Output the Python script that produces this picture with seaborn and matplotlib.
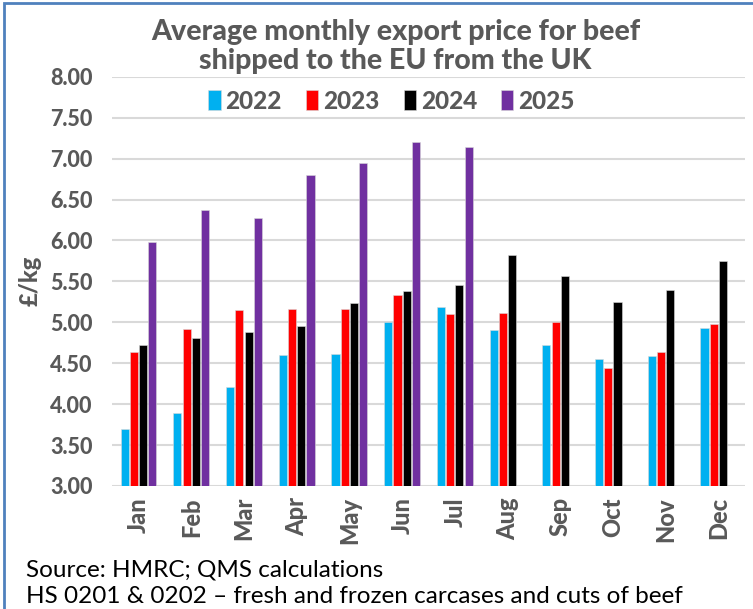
import pandas as pd
import matplotlib.pyplot as plt
import matplotlib.patches as patches
import seaborn as sns

months = ['Jan', 'Feb', 'Mar', 'Apr', 'May', 'Jun', 'Jul', 'Aug', 'Sep', 'Oct', 'Nov', 'Dec']
years = ['2022', '2023', '2024', '2025']
v2022 = [3.70, 3.89, 4.21, 4.60, 4.61, 5.00, 5.19, 4.90, 4.72, 4.55, 4.59, 4.93]
v2023 = [4.64, 4.92, 5.15, 5.16, 5.16, 5.33, 5.10, 5.11, 5.00, 4.44, 4.64, 4.98]
v2024 = [4.72, 4.81, 4.88, 4.96, 5.23, 5.38, 5.45, 5.82, 5.56, 5.25, 5.40, 5.75]
v2025 = [5.98, 6.37, 6.27, 6.80, 6.95, 7.20, 7.14, None, None, None, None, None]
colors = ['#00B0F0', '#FF0000', '#000000', '#7030A0']

rows = []
for y, vals in zip(years, [v2022, v2023, v2024, v2025]):
    for m, v in zip(months, vals):
        rows.append({'month': m, 'year': y, 'price': v})
df = pd.DataFrame(rows)

sns.set_style('white')
plt.rcParams['font.family'] = ['Lato', 'DejaVu Sans']
grey = '#595959'

fig = plt.figure(figsize=(7.53, 6.09), dpi=100)
ax = fig.add_axes([0.149, 0.202, 0.84, 0.672])
sns.barplot(data=df, x='month', y='price', hue='year', palette=colors, saturation=1,
            width=0.7, gap=0.12, edgecolor='#d9d9d9', linewidth=0.4, ax=ax, legend=True)

ax.set_ylim(3, 8)
ax.set_yticks([3 + 0.5 * i for i in range(11)])
ax.set_yticklabels(['%.2f' % (3 + 0.5 * i) for i in range(11)], fontsize=15.5, fontweight=900, color=grey)
ax.set_xticks(range(12))
ax.set_xticklabels(months, rotation=90, fontsize=17, fontweight=900, color=grey)
ax.tick_params(axis='y', length=0, pad=14)
ax.tick_params(axis='x', length=0, pad=8)
ax.set_xlim(-0.5, 11.5)
ax.grid(axis='y', color='#d9d9d9', linewidth=1.5)
ax.set_axisbelow(True)
for s in ax.spines.values():
    s.set_visible(False)
ax.set_xlabel('')
ax.set_ylabel('£/kg', fontsize=17, fontweight=900, color=grey, labelpad=6)

leg = ax.legend(loc='center', bbox_to_anchor=(0.52, 0.834), bbox_transform=fig.transFigure,
                ncol=4, frameon=False, fontsize=17.5, handlelength=0.5, handleheight=0.9,
                handletextpad=0.2, columnspacing=1.0)
for t in leg.get_texts():
    t.set_fontweight(900)
    t.set_color(grey)

fig.text(0.525, 0.924, 'Average monthly export price for beef\nshipped to the EU from the UK',
         ha='center', va='center', fontsize=20.5, fontweight=900, color=grey, linespacing=1.15)
fig.text(0.034, 0.064, 'Source: HMRC; QMS calculations', fontsize=17.5, color='#000000', va='center')
fig.text(0.034, 0.02, 'HS 0201 & 0202 \u2013 fresh and frozen carcases and cuts of beef', fontsize=17.5, color='#000000', va='center')

fig.patches.append(patches.Rectangle((0.005, -0.05), 1.2, 1.045, transform=fig.transFigure,
                                     fill=False, edgecolor='#4F81BD', linewidth=2))

fig.savefig('out.png', dpi=100)
